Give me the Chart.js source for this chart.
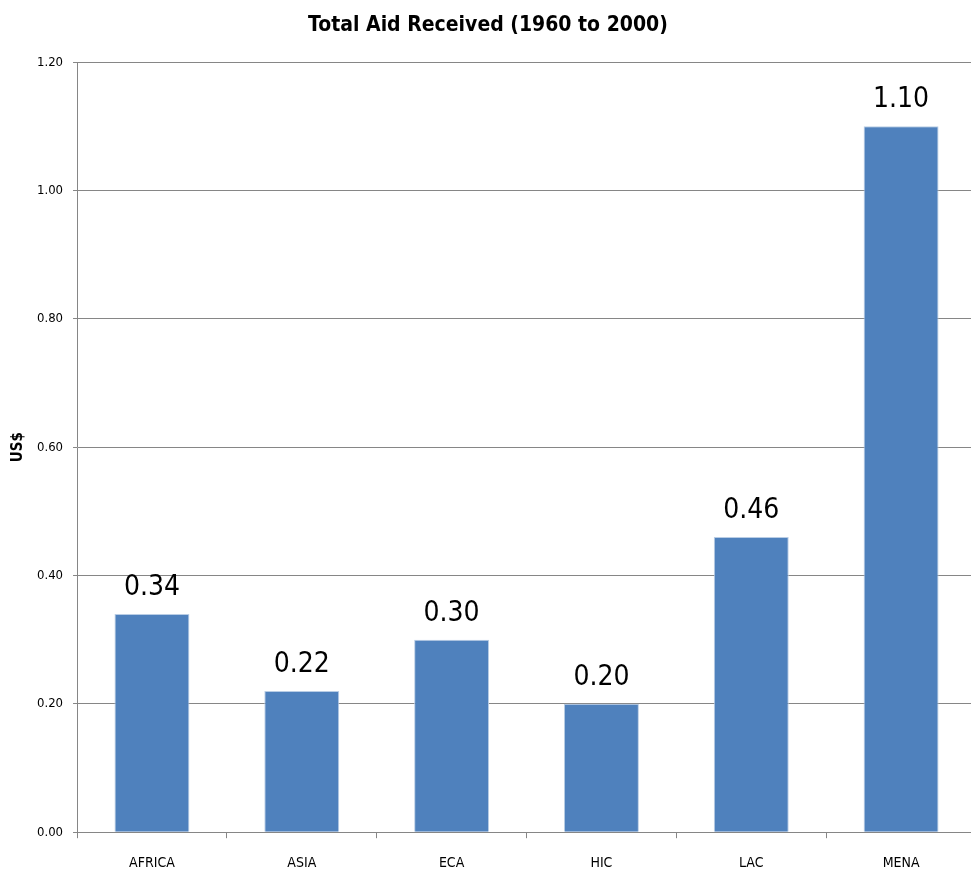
<!DOCTYPE html>
<html>
<head>
<meta charset="utf-8">
<script src="https://cdn.jsdelivr.net/npm/chart.js@4"></script>
<style>
  html, body { margin: 0; padding: 0; background: #fff; overflow: hidden; }
  #wrap { position: relative; width: 976px; height: 877px; }
</style>
</head>
<body>
<div id="wrap"><canvas id="c"></canvas></div>
<script>
// Regions and their total aid received, US$
const regions = ['AFRICA', 'ASIA', 'ECA', 'HIC', 'LAC', 'MENA'];
const aidValues = [0.34, 0.22, 0.30, 0.20, 0.46, 1.10];
const yTicks = [0.00, 0.20, 0.40, 0.60, 0.80, 1.00, 1.20];

const FONT = "'Liberation Sans Narrow', 'DejaVu Sans Condensed', 'Liberation Sans', sans-serif";

// Writes the value above each bar
const valueLabels = {
  id: 'valueLabels',
  afterDatasetsDraw(chart) {
    const ctx = chart.ctx;
    const meta = chart.getDatasetMeta(0);
    ctx.save();
    ctx.fillStyle = '#000';
    ctx.font = '28px ' + FONT;
    ctx.textAlign = 'center';
    ctx.textBaseline = 'alphabetic';
    meta.data.forEach((bar, i) => {
      ctx.fillText(chart.data.datasets[0].data[i].toFixed(2), bar.x, bar.y - 19);
    });
    ctx.restore();
  }
};

new Chart(document.getElementById('c'), {
  type: 'bar',
  data: {
    labels: regions,
    datasets: [{
      data: aidValues,
      backgroundColor: '#4F81BD',
      borderColor: '#B9CDE5',
      borderWidth: 1,
      barPercentage: 0.5,
      categoryPercentage: 1.0
    }]
  },
  options: {
    responsive: true,
    maintainAspectRatio: false,
    animation: false,
    layout: { padding: { left: 0, right: 0, top: 0, bottom: -12 } },
    plugins: {
      legend: { display: false },
      tooltip: { enabled: false },
      title: {
        display: true,
        text: 'Total Aid Received (1960 to 2000)',
        color: '#000',
        font: { family: FONT, size: 21, weight: 'bold' },
        padding: { top: 13, bottom: 24 }
      }
    },
    scales: {
      x: {
        grid: {
          drawOnChartArea: false,
          drawTicks: true,
          tickLength: 6,
          color: '#868686',
          offset: true
        },
        border: { display: true, color: '#868686' },
        ticks: {
          color: '#000',
          font: { family: FONT, size: 14 },
          padding: 17,
          maxRotation: 0
        }
      },
      y: {
        min: 0,
        max: 1.2,
        afterBuildTicks(scale) {
          scale.ticks = yTicks.map(v => ({ value: v }));
        },
        grid: {
          color: '#868686',
          drawTicks: true,
          tickLength: 4
        },
        border: { display: true, color: '#868686' },
        ticks: {
          color: '#000',
          font: { family: FONT, size: 13 },
          padding: 10,
          callback: v => Number(v).toFixed(2)
        },
        title: {
          display: true,
          text: 'US$',
          color: '#000',
          font: { family: FONT, size: 15, weight: 'bold' },
          padding: { top: 9, bottom: 0 }
        }
      }
    }
  },
  plugins: [valueLabels]
});
</script>
</body>
</html>
